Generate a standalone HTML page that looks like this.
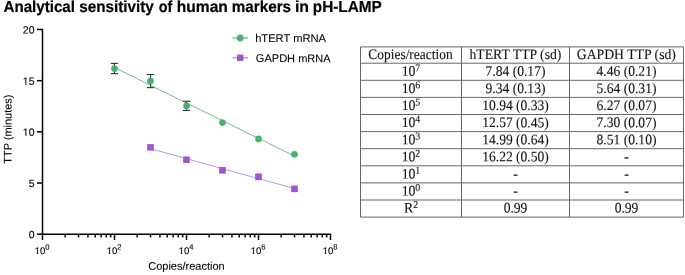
<!DOCTYPE html>
<html><head><meta charset="utf-8"><title>Analytical sensitivity of human markers in pH-LAMP</title>
<style>html,body{margin:0;padding:0;background:#fff;width:685px;height:275px;overflow:hidden}
svg{position:absolute;left:0;top:0;will-change:transform}</style></head>
<body><svg width="685" height="275" viewBox="0 0 685 275"><style>
text{text-rendering:geometricPrecision;font-kerning:normal}
.s{font-family:"Liberation Sans",sans-serif;fill:#000;stroke:#000;stroke-width:0.08px}
.b{font-family:"Liberation Sans",sans-serif;font-weight:bold;fill:#000;stroke:#000;stroke-width:0.2px}
.t{font-family:"Liberation Sans",sans-serif;fill:#000;stroke:#000;stroke-width:0.12px}
.r{font-family:"Liberation Serif",serif;fill:#111;stroke:#111;stroke-width:0.1px}
</style><g><text class="b" transform="translate(3.52,12.00) rotate(0.05)" font-size="16.0" textLength="71.45" lengthAdjust="spacingAndGlyphs">Analytical</text><text class="b" transform="translate(79.26,12.00) rotate(0.05)" font-size="16.0" textLength="74.52" lengthAdjust="spacingAndGlyphs">sensitivity</text><text class="b" transform="translate(158.64,12.00) rotate(0.05)" font-size="16.0" textLength="13.64" lengthAdjust="spacingAndGlyphs">of</text><text class="b" transform="translate(176.81,12.00) rotate(0.05)" font-size="16.0" textLength="51.05" lengthAdjust="spacingAndGlyphs">human</text><text class="b" transform="translate(231.80,12.00) rotate(0.05)" font-size="16.0" textLength="59.23" lengthAdjust="spacingAndGlyphs">markers</text><text class="b" transform="translate(294.89,12.00) rotate(0.05)" font-size="16.0" textLength="14.09" lengthAdjust="spacingAndGlyphs">in</text><text class="b" transform="translate(312.79,12.00) rotate(0.05)" font-size="16.0" textLength="68.93" lengthAdjust="spacingAndGlyphs">pH-LAMP</text></g><g stroke="#000" stroke-width="1.5" fill="none"><line x1="42.5" y1="28.75" x2="42.5" y2="234.95"/><line x1="41.75" y1="234.2" x2="331.25" y2="234.2"/><line x1="37" y1="234.20" x2="42.5" y2="234.20"/><line x1="37" y1="183.02" x2="42.5" y2="183.02"/><line x1="37" y1="131.85" x2="42.5" y2="131.85"/><line x1="37" y1="80.68" x2="42.5" y2="80.68"/><line x1="37" y1="29.50" x2="42.5" y2="29.50"/><line x1="42.50" y1="234.2" x2="42.50" y2="240"/><line x1="65.21" y1="234.2" x2="65.21" y2="237.4"/><line x1="78.50" y1="234.2" x2="78.50" y2="237.4"/><line x1="87.93" y1="234.2" x2="87.93" y2="237.4"/><line x1="95.24" y1="234.2" x2="95.24" y2="237.4"/><line x1="101.21" y1="234.2" x2="101.21" y2="237.4"/><line x1="106.26" y1="234.2" x2="106.26" y2="237.4"/><line x1="110.64" y1="234.2" x2="110.64" y2="237.4"/><line x1="114.50" y1="234.2" x2="114.50" y2="240"/><line x1="137.21" y1="234.2" x2="137.21" y2="237.4"/><line x1="150.50" y1="234.2" x2="150.50" y2="237.4"/><line x1="159.93" y1="234.2" x2="159.93" y2="237.4"/><line x1="167.24" y1="234.2" x2="167.24" y2="237.4"/><line x1="173.21" y1="234.2" x2="173.21" y2="237.4"/><line x1="178.26" y1="234.2" x2="178.26" y2="237.4"/><line x1="182.64" y1="234.2" x2="182.64" y2="237.4"/><line x1="186.50" y1="234.2" x2="186.50" y2="240"/><line x1="209.21" y1="234.2" x2="209.21" y2="237.4"/><line x1="222.50" y1="234.2" x2="222.50" y2="237.4"/><line x1="231.93" y1="234.2" x2="231.93" y2="237.4"/><line x1="239.24" y1="234.2" x2="239.24" y2="237.4"/><line x1="245.21" y1="234.2" x2="245.21" y2="237.4"/><line x1="250.26" y1="234.2" x2="250.26" y2="237.4"/><line x1="254.64" y1="234.2" x2="254.64" y2="237.4"/><line x1="258.50" y1="234.2" x2="258.50" y2="240"/><line x1="281.21" y1="234.2" x2="281.21" y2="237.4"/><line x1="294.50" y1="234.2" x2="294.50" y2="237.4"/><line x1="303.93" y1="234.2" x2="303.93" y2="237.4"/><line x1="311.24" y1="234.2" x2="311.24" y2="237.4"/><line x1="317.21" y1="234.2" x2="317.21" y2="237.4"/><line x1="322.26" y1="234.2" x2="322.26" y2="237.4"/><line x1="326.64" y1="234.2" x2="326.64" y2="237.4"/><line x1="330.50" y1="234.2" x2="330.50" y2="240"/></g><text class="t" transform="translate(34.5,238.20) rotate(0.05)" font-size="10.5" text-anchor="end">0</text><text class="t" transform="translate(34.5,187.02) rotate(0.05)" font-size="10.5" text-anchor="end">5</text><text class="t" transform="translate(34.5,135.85) rotate(0.05)" font-size="10.5" text-anchor="end">10</text><text class="t" transform="translate(34.5,84.68) rotate(0.05)" font-size="10.5" text-anchor="end">15</text><text class="t" transform="translate(34.5,33.50) rotate(0.05)" font-size="10.5" text-anchor="end">20</text><text class="t" transform="translate(34.65,254) rotate(0.05)" font-size="9.6">10<tspan font-size="7.6" dy="-4.5">0</tspan></text><text class="t" transform="translate(106.65,254) rotate(0.05)" font-size="9.6">10<tspan font-size="7.6" dy="-4.5">2</tspan></text><text class="t" transform="translate(178.65,254) rotate(0.05)" font-size="9.6">10<tspan font-size="7.6" dy="-4.5">4</tspan></text><text class="t" transform="translate(250.65,254) rotate(0.05)" font-size="9.6">10<tspan font-size="7.6" dy="-4.5">6</tspan></text><text class="t" transform="translate(322.65,254) rotate(0.05)" font-size="9.6">10<tspan font-size="7.6" dy="-4.5">8</tspan></text><g><rect x="23.02" y="134.97" width="2.34" height="1.13" fill="#fff"/><rect x="26.49" y="134.97" width="2.26" height="1.13" fill="#fff"/><rect x="23.02" y="83.79" width="2.34" height="1.13" fill="#fff"/><rect x="26.49" y="83.79" width="2.26" height="1.13" fill="#fff"/><rect x="34.78" y="253.18" width="2.18" height="1.07" fill="#fff"/><rect x="38.01" y="253.18" width="2.11" height="1.07" fill="#fff"/><rect x="106.78" y="253.18" width="2.18" height="1.07" fill="#fff"/><rect x="110.01" y="253.18" width="2.11" height="1.07" fill="#fff"/><rect x="178.78" y="253.18" width="2.18" height="1.07" fill="#fff"/><rect x="182.01" y="253.18" width="2.11" height="1.07" fill="#fff"/><rect x="250.78" y="253.18" width="2.18" height="1.07" fill="#fff"/><rect x="254.01" y="253.18" width="2.11" height="1.07" fill="#fff"/><rect x="322.78" y="253.18" width="2.18" height="1.07" fill="#fff"/><rect x="326.01" y="253.18" width="2.11" height="1.07" fill="#fff"/></g><text class="s" transform="translate(148.24,269.70) rotate(0.05)" font-size="11" textLength="76.37" lengthAdjust="spacingAndGlyphs">Copies/reaction</text><g transform="translate(11.5,0) rotate(-90)"><text class="s" transform="translate(-163.75,0.00) rotate(0.05)" font-size="11" textLength="69.23" lengthAdjust="spacingAndGlyphs">TTP (minutes)</text></g><line x1="114.50" y1="67.64" x2="294.50" y2="156.07" stroke="#5fae88" stroke-width="0.85"/><line x1="150.50" y1="148.65" x2="294.50" y2="188.61" stroke="#a886dc" stroke-width="0.85"/><g stroke="#333" stroke-width="1.1"><line x1="114.50" y1="63.37" x2="114.50" y2="73.61"/><line x1="110.80" y1="63.37" x2="118.20" y2="63.37"/><line x1="110.80" y1="73.61" x2="118.20" y2="73.61"/></g><g stroke="#333" stroke-width="1.1"><line x1="150.50" y1="74.53" x2="150.50" y2="87.63"/><line x1="146.80" y1="74.53" x2="154.20" y2="74.53"/><line x1="146.80" y1="87.63" x2="154.20" y2="87.63"/></g><g stroke="#333" stroke-width="1.1"><line x1="186.50" y1="101.24" x2="186.50" y2="110.45"/><line x1="182.80" y1="101.24" x2="190.20" y2="101.24"/><line x1="182.80" y1="110.45" x2="190.20" y2="110.45"/></g><circle cx="114.50" cy="68.49" r="3.35" fill="#4ab16c"/><circle cx="150.50" cy="81.08" r="3.35" fill="#4ab16c"/><circle cx="186.50" cy="105.85" r="3.35" fill="#4ab16c"/><circle cx="222.50" cy="122.53" r="3.35" fill="#4ab16c"/><circle cx="258.50" cy="138.91" r="3.35" fill="#4ab16c"/><circle cx="294.50" cy="154.26" r="3.35" fill="#4ab16c"/><rect x="147.20" y="144.10" width="6.6" height="6.6" fill="#9c56d6"/><rect x="183.20" y="156.48" width="6.6" height="6.6" fill="#9c56d6"/><rect x="219.20" y="167.03" width="6.6" height="6.6" fill="#9c56d6"/><rect x="255.20" y="173.47" width="6.6" height="6.6" fill="#9c56d6"/><rect x="291.20" y="185.55" width="6.6" height="6.6" fill="#9c56d6"/><line x1="232.5" y1="38" x2="248" y2="38" stroke="#5fae88" stroke-width="1.2"/><circle cx="240.2" cy="38" r="3.4" fill="#4ab16c"/><line x1="232.5" y1="57.8" x2="248" y2="57.8" stroke="#a886dc" stroke-width="1.2"/><rect x="237" y="54.6" width="6.4" height="6.4" fill="#9c56d6"/><text class="s" transform="translate(255.13,42.00) rotate(0.05)" font-size="11.25" textLength="70.90" lengthAdjust="spacingAndGlyphs">hTERT mRNA</text><text class="s" transform="translate(255.85,62.10) rotate(0.05)" font-size="11.25" textLength="74.78" lengthAdjust="spacingAndGlyphs">GAPDH mRNA</text><g stroke="#666" stroke-width="1" fill="none"><line x1="360.5" y1="46.9" x2="360.5" y2="217.1"/><line x1="461.5" y1="46.9" x2="461.5" y2="217.1"/><line x1="569.5" y1="46.9" x2="569.5" y2="217.1"/><line x1="683.5" y1="46.9" x2="683.5" y2="217.1"/><line x1="360.5" y1="46.90" x2="683.5" y2="46.90"/><line x1="360.5" y1="63.20" x2="683.5" y2="63.20"/><line x1="360.5" y1="80.30" x2="683.5" y2="80.30"/><line x1="360.5" y1="97.40" x2="683.5" y2="97.40"/><line x1="360.5" y1="114.50" x2="683.5" y2="114.50"/><line x1="360.5" y1="131.60" x2="683.5" y2="131.60"/><line x1="360.5" y1="148.70" x2="683.5" y2="148.70"/><line x1="360.5" y1="165.80" x2="683.5" y2="165.80"/><line x1="360.5" y1="182.90" x2="683.5" y2="182.90"/><line x1="360.5" y1="200.00" x2="683.5" y2="200.00"/><line x1="360.5" y1="217.10" x2="683.5" y2="217.10"/></g><g><text class="r" transform="translate(368.35,58.90) rotate(0.05) scale(0.9259,1)" font-size="14.5">Copies/reaction</text><text class="r" transform="translate(469.47,58.90) rotate(0.05) scale(0.9465,1)" font-size="14.5">hTERT TTP (sd)</text><text class="r" transform="translate(576.74,58.90) rotate(0.05) scale(0.9469,1)" font-size="14.5">GAPDH TTP (sd)</text><text class="r" transform="translate(401.72,75.80) rotate(0.05) scale(0.952,1)" font-size="14.5">10<tspan font-size="10.4" dx="-0.21" dy="-4.6">7</tspan></text><text class="r" transform="translate(485.56,75.80) rotate(0.05) scale(0.935,1)" font-size="14.5">7.84 (0.17)</text><text class="r" transform="translate(596.56,75.80) rotate(0.05) scale(0.935,1)" font-size="14.5">4.46 (0.21)</text><text class="r" transform="translate(401.72,92.90) rotate(0.05) scale(0.952,1)" font-size="14.5">10<tspan font-size="10.4" dx="-0.21" dy="-4.6">6</tspan></text><text class="r" transform="translate(485.56,92.90) rotate(0.05) scale(0.935,1)" font-size="14.5">9.34 (0.13)</text><text class="r" transform="translate(596.56,92.90) rotate(0.05) scale(0.935,1)" font-size="14.5">5.64 (0.31)</text><text class="r" transform="translate(401.72,110.00) rotate(0.05) scale(0.952,1)" font-size="14.5">10<tspan font-size="10.4" dx="-0.21" dy="-4.6">5</tspan></text><text class="r" transform="translate(482.18,110.00) rotate(0.05) scale(0.935,1)" font-size="14.5">10.94 (0.33)</text><text class="r" transform="translate(596.56,110.00) rotate(0.05) scale(0.935,1)" font-size="14.5">6.27 (0.07)</text><text class="r" transform="translate(401.72,127.10) rotate(0.05) scale(0.952,1)" font-size="14.5">10<tspan font-size="10.4" dx="-0.21" dy="-4.6">4</tspan></text><text class="r" transform="translate(482.18,127.10) rotate(0.05) scale(0.935,1)" font-size="14.5">12.57 (0.45)</text><text class="r" transform="translate(596.56,127.10) rotate(0.05) scale(0.935,1)" font-size="14.5">7.30 (0.07)</text><text class="r" transform="translate(401.72,144.20) rotate(0.05) scale(0.952,1)" font-size="14.5">10<tspan font-size="10.4" dx="-0.21" dy="-4.6">3</tspan></text><text class="r" transform="translate(482.18,144.20) rotate(0.05) scale(0.935,1)" font-size="14.5">14.99 (0.64)</text><text class="r" transform="translate(596.56,144.20) rotate(0.05) scale(0.935,1)" font-size="14.5">8.51 (0.10)</text><text class="r" transform="translate(401.72,161.30) rotate(0.05) scale(0.952,1)" font-size="14.5">10<tspan font-size="10.4" dx="-0.21" dy="-4.6">2</tspan></text><text class="r" transform="translate(482.18,161.30) rotate(0.05) scale(0.935,1)" font-size="14.5">16.22 (0.50)</text><text class="r" transform="translate(624.24,161.30) rotate(0.05) scale(0.935,1)" font-size="14.5">-</text><text class="r" transform="translate(401.72,178.40) rotate(0.05) scale(0.952,1)" font-size="14.5">10<tspan font-size="10.4" dx="-0.21" dy="-4.6">1</tspan></text><text class="r" transform="translate(513.24,178.40) rotate(0.05) scale(0.935,1)" font-size="14.5">-</text><text class="r" transform="translate(624.24,178.40) rotate(0.05) scale(0.935,1)" font-size="14.5">-</text><text class="r" transform="translate(401.72,195.50) rotate(0.05) scale(0.952,1)" font-size="14.5">10<tspan font-size="10.4" dx="-0.21" dy="-4.6">0</tspan></text><text class="r" transform="translate(513.24,195.50) rotate(0.05) scale(0.935,1)" font-size="14.5">-</text><text class="r" transform="translate(624.24,195.50) rotate(0.05) scale(0.935,1)" font-size="14.5">-</text><text class="r" transform="translate(403.92,212.60) rotate(0.05) scale(0.952,1)" font-size="14.5">R<tspan font-size="10.4" dx="0.00" dy="-4.6">2</tspan></text><text class="r" transform="translate(503.64,212.60) rotate(0.05) scale(0.935,1)" font-size="14.5">0.99</text><text class="r" transform="translate(614.64,212.60) rotate(0.05) scale(0.935,1)" font-size="14.5">0.99</text></g></svg></body></html>
